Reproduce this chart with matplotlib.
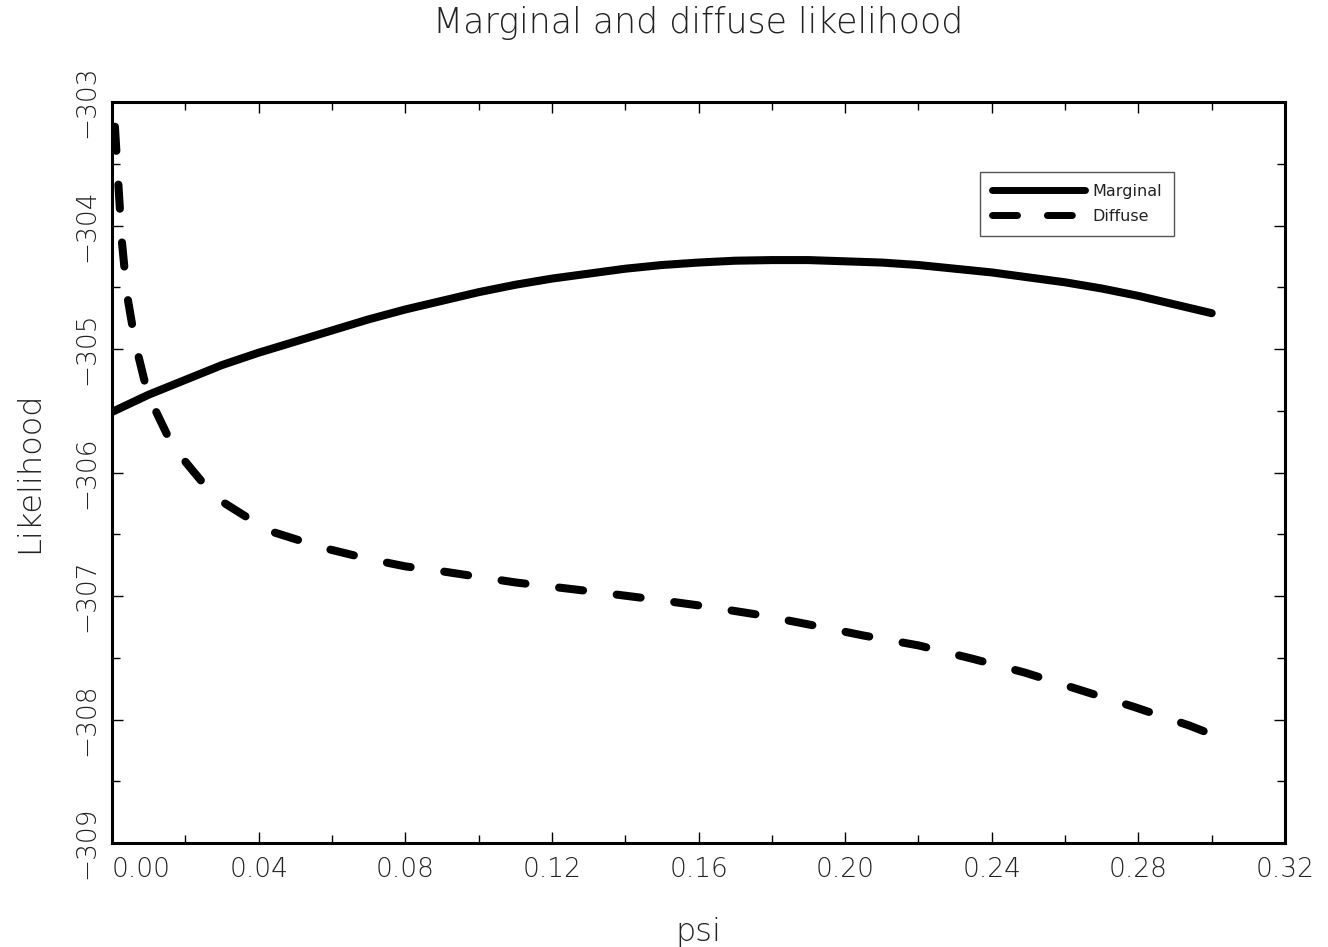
import matplotlib
matplotlib.use("Agg")
import matplotlib.pyplot as plt
from matplotlib.ticker import MultipleLocator

# Values
psi_marginal = [0.000, 0.010, 0.020, 0.030, 0.040, 0.050, 0.060, 0.070, 0.080, 0.090,
                0.100, 0.110, 0.120, 0.130, 0.140, 0.150, 0.160, 0.170, 0.180, 0.190,
                0.200, 0.210, 0.220, 0.230, 0.240, 0.250, 0.260, 0.270, 0.280, 0.290, 0.300]
lik_marginal = [-305.51, -305.37, -305.25, -305.13, -305.03, -304.94, -304.85, -304.76, -304.68, -304.61,
                -304.54, -304.48, -304.43, -304.39, -304.35, -304.32, -304.30, -304.285, -304.28, -304.28,
                -304.29, -304.30, -304.32, -304.35, -304.38, -304.42, -304.46, -304.51, -304.57, -304.64, -304.71]

psi_diffuse = [0.0008, 0.0015, 0.0027, 0.0041, 0.0064, 0.0098, 0.0166, 0.0230, 0.0281, 0.0426,
               0.0576, 0.070, 0.080, 0.090, 0.100, 0.110, 0.120, 0.130, 0.146, 0.161,
               0.176, 0.190, 0.205, 0.220, 0.235, 0.249, 0.264, 0.279, 0.294, 0.300]
lik_diffuse = [-303.20, -303.55, -304.13, -304.56, -304.96, -305.37, -305.79, -306.02, -306.20, -306.47,
               -306.61, -306.70, -306.76, -306.80, -306.845, -306.89, -306.925, -306.96, -307.02, -307.08,
               -307.15, -307.23, -307.32, -307.40, -307.51, -307.62, -307.76, -307.90, -308.05, -308.12]

x_ticks = [0.00, 0.04, 0.08, 0.12, 0.16, 0.20, 0.24, 0.28, 0.32]
y_ticks = [-309, -308, -307, -306, -305, -304, -303]

text_color = "#222222"
plt.rcParams["font.family"] = ["DejaVu Sans"]

fig = plt.figure(figsize=(13.28, 9.47), dpi=100)
ax = fig.add_axes([112 / 1328, 104 / 947, 1173 / 1328, 741 / 947])

ax.plot(psi_marginal, lik_marginal, color="black", lw=5.8, solid_capstyle="round",
        label="Marginal")
ax.plot(psi_diffuse, lik_diffuse, color="black", lw=5.8, linestyle=(0, (3.0, 4.2)),
        dash_capstyle="round", label="Diffuse")

ax.set_xlim(0.0, 0.32)
ax.set_ylim(-309, -303)
ax.set_xticks(x_ticks)
ax.set_xticklabels([f"{v:.2f}" for v in x_ticks])
ax.set_yticks(y_ticks)
ax.set_yticklabels([f"\u2212{abs(v)}" for v in y_ticks])
ax.xaxis.set_minor_locator(MultipleLocator(0.02))
ax.yaxis.set_minor_locator(MultipleLocator(0.5))

for s in ax.spines.values():
    s.set_linewidth(2.2)

ax.tick_params(which="both", direction="in", top=True, right=True,
               colors="black", labelcolor=text_color, labelsize=19)
ax.tick_params(which="major", length=8, width=1.0)
ax.tick_params(which="minor", length=5.5, width=1.0)
ax.tick_params(axis="x", pad=10)
ax.tick_params(axis="y", pad=9)
plt.setp(ax.get_yticklabels(), rotation=90, va="center", fontweight="light")
plt.setp(ax.get_xticklabels(), fontweight="light")
ax.get_xticklabels()[0].set_ha("left")

ax.set_xlabel("psi", fontsize=23, color=text_color, labelpad=25, fontweight="light")
ax.set_ylabel("Likelihood", fontsize=23, color=text_color, labelpad=22, fontweight="light")
fig.text(0.5255, 1 - 33 / 947, "Marginal and diffuse likelihood", ha="center",
         va="baseline", fontsize=25, color=text_color, fontweight="light")

leg = ax.legend(loc="upper left", bbox_to_anchor=(0.74, 0.9055), borderaxespad=0,
                fontsize=11.5, handlelength=5.8, handletextpad=0.5, fancybox=False,
                framealpha=1, borderpad=0.75, labelspacing=0.6)
leg.get_frame().set_edgecolor("#555555")
leg.get_frame().set_linewidth(1.0)
for t in leg.get_texts():
    t.set_color(text_color)
for line in leg.get_lines():
    line.set_linewidth(5.0)
leg.get_lines()[1].set_linestyle((0, (3.6, 4.3)))

fig.savefig("out.png", dpi=100)
